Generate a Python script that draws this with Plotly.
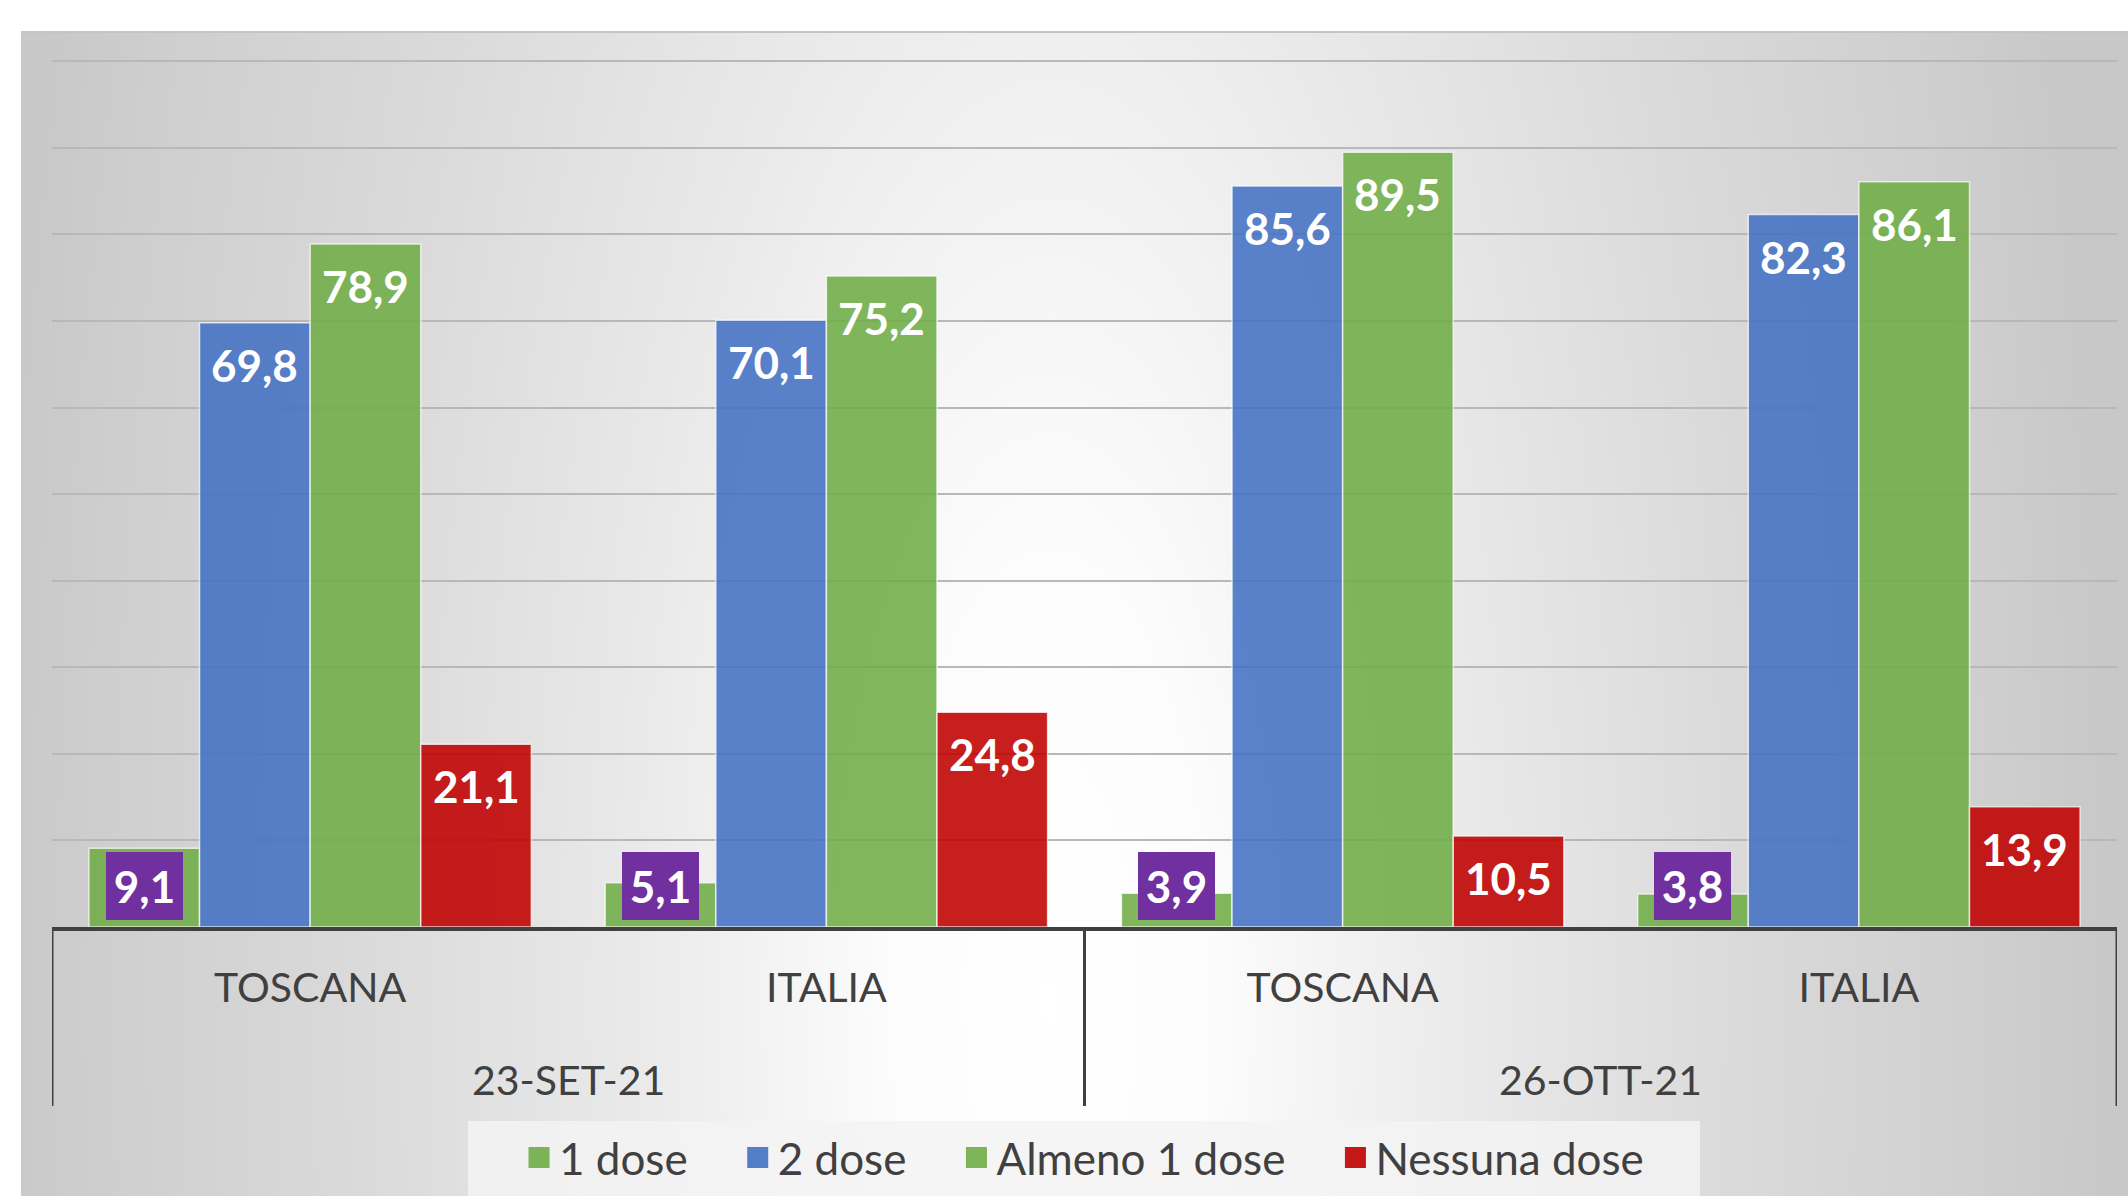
import base64
import plotly.graph_objects as go

# ---- data ----
dates = ["23-SET-21", "23-SET-21", "26-OTT-21", "26-OTT-21"]
areas = ["TOSCANA", "ITALIA", "TOSCANA", "ITALIA"]
series_names = ["1 dose", "2 dose", "Almeno 1 dose", "Nessuna dose"]
dose1 = [9.1, 5.1, 3.9, 3.8]
dose2 = [69.8, 70.1, 85.6, 82.3]
almeno1 = [78.9, 75.2, 89.5, 86.1]
nessuna = [21.1, 24.8, 10.5, 13.9]
y_ticks = [0, 10, 20, 30, 40, 50, 60, 70, 80, 90, 100]

series_values = [dose1, dose2, almeno1, nessuna]
colors = ["#70AD47", "#4472C4", "#70AD47", "#C00000"]
FONT = "Lato"
TXT = "#404040"
W, H = 2128, 1196
L, R, T, B = 52, 11, 57, 269
BARGAP = 0.143
pw, ph = W - L - R, H - T - B
base_px = H - B


def py(px):
    """figure pixel row -> paper y"""
    return (base_px - px) / ph


def px_x(px):
    return (px - L) / pw


def fmt(v):
    return f"{v:.1f}".replace(".", ",")


xpos = list(range(len(areas)))
fig = go.Figure()
for name, vals, col in zip(series_names, series_values, colors):
    fig.add_trace(go.Bar(
        x=xpos, y=vals, name=name,
        marker=dict(color=col, opacity=0.88,
                    line=dict(color="rgba(255,255,255,0.75)", width=1.5)),
        showlegend=False, hoverinfo="skip",
    ))

# legend proxies (large square symbols)
pad = "\u00a0" * 4
for k, (name, col) in enumerate(zip(series_names, colors)):
    label = name + (pad if k < len(series_names) - 1 else "")
    fig.add_trace(go.Scatter(
        x=[None], y=[None], mode="markers", name=label,
        marker=dict(symbol="square", size=22, color=col, opacity=0.9,
                    line=dict(color=col, width=5)),
        showlegend=True, hoverinfo="skip",
    ))

# data labels
n_series = len(series_names)
bw = (1 - BARGAP) / n_series
offset0 = -(1 - BARGAP) / 2 + bw / 2
for k, vals in enumerate(series_values):
    for i, v in enumerate(vals):
        xc = xpos[i] + offset0 + k * bw
        if k == 0:
            fig.add_annotation(
                x=xc, y=0, xref="x", yref="y", yanchor="bottom", xanchor="center",
                yshift=7, text=fmt(v), showarrow=False,
                font=dict(family=FONT, size=44, color="white", weight="bold"),
                bgcolor="#7030A0", borderwidth=0, borderpad=0, width=77, height=68,
            )
        else:
            fig.add_annotation(
                x=xc, y=v, xref="x", yref="y", yanchor="middle", xanchor="center",
                yshift=-42, text=fmt(v), showarrow=False,
                font=dict(family=FONT, size=44, color="white", weight="bold"),
            )

# group (date) labels and dividers
groups = []
for i, d in enumerate(dates):
    if not groups or groups[-1][0] != d:
        groups.append([d, i, i])
    else:
        groups[-1][2] = i
for d, i0, i1 in groups:
    fig.add_annotation(
        x=(xpos[i0] + xpos[i1]) / 2, y=py(1079), xref="x", yref="paper",
        yanchor="middle", xanchor="center", text=d, showarrow=False,
        font=dict(family=FONT, size=41, color=TXT),
    )
div_x = [xpos[groups[0][1]] - 0.5] + [xpos[g[2]] + 0.5 for g in groups]
for xv in div_x:
    fig.add_shape(type="line", xref="x", yref="paper", x0=xv, x1=xv,
                  y0=0, y1=py(1106), line=dict(color="#404040", width=3),
                  layer="above")

# legend background box
fig.add_shape(type="rect", xref="paper", yref="paper",
              x0=px_x(468), x1=px_x(1700), y0=py(1121), y1=py(1200),
              fillcolor="rgba(243,243,243,0.85)", line=dict(width=0), layer="below")

# gradient background as svg
bw_px, bh_px = W - 21, H - 31
cx, cy = 1029, 969
svg = f'''<svg xmlns="http://www.w3.org/2000/svg" width="{bw_px}" height="{bh_px}" viewBox="0 0 {bw_px} {bh_px}" preserveAspectRatio="none">
<defs><radialGradient id="g" gradientUnits="userSpaceOnUse" cx="{cx}" cy="{cy}" r="1060"
 gradientTransform="translate({cx} {cy}) scale(1 2.8) translate({-cx} {-cy})">
<stop offset="0" stop-color="#FFFFFF"/>
<stop offset="0.15" stop-color="#FCFCFC"/>
<stop offset="0.4" stop-color="#E9E9E9"/>
<stop offset="0.65" stop-color="#DADADA"/>
<stop offset="0.9" stop-color="#CECECE"/>
<stop offset="1" stop-color="#C8C8C8"/>
</radialGradient></defs>
<rect x="0" y="0" width="{bw_px}" height="{bh_px}" fill="url(#g)"/>
<rect x="0" y="0" width="{bw_px}" height="2" fill="#C4C4C4"/>
</svg>'''
src = "data:image/svg+xml;base64," + base64.b64encode(svg.encode()).decode()
fig.add_layout_image(
    source=src, xref="paper", yref="paper",
    x=px_x(21), y=py(31),
    sizex=bw_px / pw, sizey=bh_px / ph,
    xanchor="left", yanchor="top", sizing="stretch", layer="below",
)

fig.update_layout(
    width=W, height=H,
    margin=dict(l=L, r=R, t=T, b=B, autoexpand=False),
    paper_bgcolor="white", plot_bgcolor="rgba(0,0,0,0)",
    barmode="group", bargap=BARGAP, bargroupgap=0,
    font=dict(family=FONT, size=44, color=TXT),
    xaxis=dict(range=[-0.5, len(areas) - 0.5], tickvals=xpos, ticktext=areas,
               showline=True, linecolor="#404040", linewidth=4,
               ticks="", ticklabelstandoff=22,
               tickfont=dict(family=FONT, size=41, color=TXT),
               showgrid=False, zeroline=False),
    yaxis=dict(range=[0, 100.5], tickvals=y_ticks, showticklabels=False,
               showgrid=True, gridcolor="#B8B8B8", gridwidth=2,
               zeroline=False, showline=False),
    legend=dict(orientation="h", x=px_x(519), xanchor="left", y=py(1158),
                yanchor="middle", bgcolor="rgba(0,0,0,0)",
                font=dict(family=FONT, size=44, color=TXT),
                itemsizing="trace", traceorder="normal"),
)

fig.write_html(
    "out.html",
    config={"displayModeBar": False},
    post_script="document.body.style.margin='0';document.body.style.padding='0';"
                "document.body.style.overflow='hidden';",
)
